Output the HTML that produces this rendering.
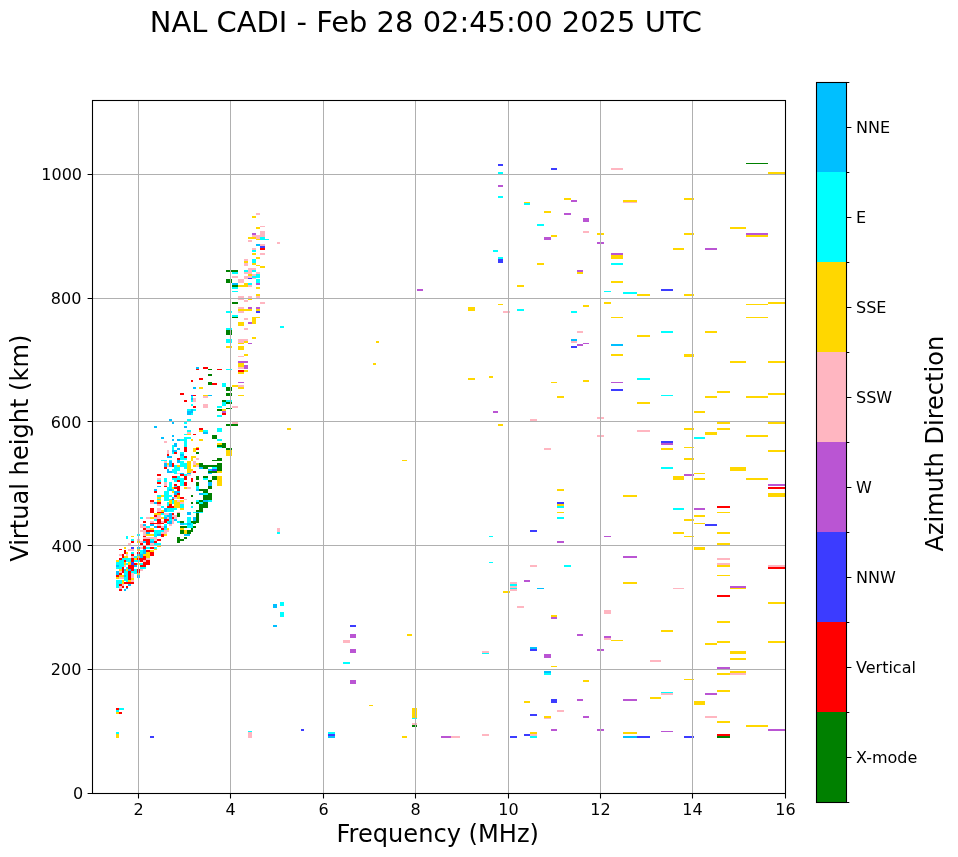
<!DOCTYPE html>
<html><head><meta charset="utf-8"><title>NAL CADI ionogram</title>
<style>html,body{margin:0;padding:0;background:#fff;width:958px;height:857px;overflow:hidden}svg{display:block;will-change:transform}</style>
</head><body>
<svg width="958" height="857" viewBox="0 0 958 857"><rect width="958" height="857" fill="#fff"/><rect x="746" y="163" width="22" height="1" fill="#008000"/><rect x="768" y="172" width="17" height="2" fill="#ffd700"/><rect x="684" y="198" width="10" height="2" fill="#ffd700"/><rect x="730" y="227" width="16" height="2" fill="#ffd700"/><rect x="684" y="233" width="10" height="2" fill="#ffd700"/><rect x="746" y="233" width="22" height="2" fill="#ba55d3"/><rect x="746" y="235" width="22" height="2" fill="#ffd700"/><rect x="673" y="248" width="11" height="2" fill="#ffd700"/><rect x="705" y="248" width="12" height="2" fill="#ba55d3"/><rect x="661" y="289" width="12" height="2" fill="#3c3cff"/><rect x="684" y="294" width="10" height="2" fill="#ffd700"/><rect x="746" y="304" width="22" height="1" fill="#ffd700"/><rect x="768" y="302" width="17" height="2" fill="#ffd700"/><rect x="746" y="317" width="22" height="1" fill="#ffd700"/><rect x="661" y="331" width="12" height="2" fill="#00ffff"/><rect x="705" y="331" width="12" height="2" fill="#ffd700"/><rect x="684" y="354" width="10" height="3" fill="#ffd700"/><rect x="730" y="361" width="16" height="2" fill="#ffd700"/><rect x="768" y="361" width="17" height="2" fill="#ffd700"/><rect x="717" y="391" width="13" height="2" fill="#ffd700"/><rect x="661" y="395" width="12" height="1" fill="#00ffff"/><rect x="705" y="396" width="12" height="2" fill="#ffd700"/><rect x="746" y="396" width="22" height="2" fill="#ffd700"/><rect x="768" y="393" width="17" height="2" fill="#ffd700"/><rect x="694" y="411" width="11" height="2" fill="#ffd700"/><rect x="717" y="422" width="13" height="2" fill="#ffd700"/><rect x="768" y="422" width="17" height="2" fill="#ffd700"/><rect x="684" y="428" width="10" height="2" fill="#ffd700"/><rect x="717" y="428" width="13" height="2" fill="#ffd700"/><rect x="705" y="432" width="12" height="3" fill="#ffd700"/><rect x="746" y="435" width="22" height="2" fill="#ffd700"/><rect x="694" y="437" width="11" height="2" fill="#00ffff"/><rect x="661" y="441" width="12" height="2" fill="#3c3cff"/><rect x="661" y="443" width="12" height="2" fill="#ba55d3"/><rect x="661" y="448" width="12" height="2" fill="#ffd700"/><rect x="684" y="447" width="10" height="1" fill="#ffd700"/><rect x="768" y="450" width="17" height="2" fill="#ffd700"/><rect x="684" y="458" width="10" height="2" fill="#ffd700"/><rect x="661" y="467" width="12" height="2" fill="#00ffff"/><rect x="730" y="467" width="16" height="4" fill="#ffd700"/><rect x="694" y="473" width="11" height="1" fill="#ffd700"/><rect x="684" y="474" width="10" height="2" fill="#ba55d3"/><rect x="673" y="476" width="11" height="4" fill="#ffd700"/><rect x="694" y="478" width="11" height="2" fill="#ffd700"/><rect x="746" y="478" width="22" height="2" fill="#ffd700"/><rect x="768" y="484" width="17" height="2" fill="#ba55d3"/><rect x="768" y="487" width="17" height="2" fill="#ff0000"/><rect x="768" y="493" width="17" height="4" fill="#ffd700"/><rect x="717" y="506" width="13" height="2" fill="#ff0000"/><rect x="673" y="508" width="11" height="2" fill="#00ffff"/><rect x="694" y="508" width="11" height="2" fill="#ba55d3"/><rect x="717" y="512" width="13" height="1" fill="#ffd700"/><rect x="694" y="515" width="11" height="2" fill="#ffd700"/><rect x="684" y="519" width="10" height="2" fill="#ffd700"/><rect x="694" y="523" width="11" height="1" fill="#ffd700"/><rect x="705" y="524" width="12" height="2" fill="#3c3cff"/><rect x="673" y="532" width="11" height="2" fill="#ffd700"/><rect x="717" y="532" width="13" height="2" fill="#ffd700"/><rect x="684" y="536" width="10" height="1" fill="#ffd700"/><rect x="717" y="543" width="13" height="2" fill="#ffd700"/><rect x="694" y="547" width="11" height="3" fill="#ffd700"/><rect x="717" y="558" width="13" height="2" fill="#ffb6c1"/><rect x="717" y="563" width="13" height="2" fill="#ffb6c1"/><rect x="717" y="565" width="13" height="2" fill="#ffd700"/><rect x="768" y="565" width="17" height="2" fill="#ffb6c1"/><rect x="768" y="567" width="17" height="2" fill="#ff0000"/><rect x="717" y="575" width="13" height="1" fill="#ffd700"/><rect x="730" y="586" width="16" height="2" fill="#ba55d3"/><rect x="730" y="588" width="16" height="1" fill="#ffd700"/><rect x="673" y="588" width="11" height="1" fill="#ffb6c1"/><rect x="717" y="595" width="13" height="2" fill="#ff0000"/><rect x="768" y="602" width="17" height="2" fill="#ffd700"/><rect x="717" y="621" width="13" height="2" fill="#ffd700"/><rect x="661" y="630" width="12" height="2" fill="#ffd700"/><rect x="705" y="643" width="12" height="2" fill="#ffd700"/><rect x="717" y="641" width="13" height="2" fill="#ffd700"/><rect x="768" y="641" width="17" height="2" fill="#ffd700"/><rect x="730" y="651" width="16" height="3" fill="#ffd700"/><rect x="730" y="658" width="16" height="2" fill="#ffd700"/><rect x="717" y="667" width="13" height="2" fill="#ba55d3"/><rect x="730" y="671" width="16" height="2" fill="#ffd700"/><rect x="717" y="673" width="13" height="2" fill="#ffd700"/><rect x="730" y="673" width="16" height="2" fill="#ffb6c1"/><rect x="684" y="679" width="10" height="1" fill="#ffd700"/><rect x="717" y="690" width="13" height="2" fill="#ffd700"/><rect x="661" y="692" width="12" height="1" fill="#00ffff"/><rect x="661" y="693" width="12" height="2" fill="#ffb6c1"/><rect x="705" y="693" width="12" height="2" fill="#ba55d3"/><rect x="694" y="701" width="11" height="4" fill="#ffd700"/><rect x="705" y="716" width="12" height="2" fill="#ffb6c1"/><rect x="717" y="721" width="13" height="2" fill="#ffd700"/><rect x="746" y="725" width="22" height="2" fill="#ffd700"/><rect x="768" y="729" width="17" height="2" fill="#ba55d3"/><rect x="661" y="731" width="12" height="1" fill="#ba55d3"/><rect x="684" y="736" width="10" height="2" fill="#3c3cff"/><rect x="717" y="734" width="13" height="2" fill="#ff0000"/><rect x="717" y="736" width="13" height="2" fill="#008000"/><rect x="551" y="168" width="6" height="2" fill="#3c3cff"/><rect x="611" y="168" width="12" height="2" fill="#ffb6c1"/><rect x="564" y="198" width="7" height="2" fill="#ffd700"/><rect x="571" y="200" width="6" height="2" fill="#ba55d3"/><rect x="524" y="202" width="6" height="1" fill="#ffd700"/><rect x="524" y="203" width="6" height="2" fill="#00ffff"/><rect x="623" y="200" width="14" height="2" fill="#ffd700"/><rect x="623" y="202" width="14" height="1" fill="#ffb6c1"/><rect x="544" y="211" width="7" height="2" fill="#ffd700"/><rect x="564" y="213" width="7" height="2" fill="#ba55d3"/><rect x="583" y="218" width="6" height="4" fill="#ba55d3"/><rect x="537" y="224" width="7" height="2" fill="#00ffff"/><rect x="583" y="231" width="6" height="2" fill="#ffb6c1"/><rect x="597" y="233" width="7" height="2" fill="#ffd700"/><rect x="551" y="235" width="6" height="2" fill="#ffd700"/><rect x="544" y="237" width="7" height="3" fill="#ba55d3"/><rect x="597" y="242" width="7" height="2" fill="#ba55d3"/><rect x="611" y="253" width="12" height="2" fill="#ba55d3"/><rect x="611" y="255" width="12" height="4" fill="#ffd700"/><rect x="611" y="263" width="12" height="2" fill="#00ffff"/><rect x="537" y="263" width="7" height="2" fill="#ffd700"/><rect x="577" y="270" width="6" height="2" fill="#ba55d3"/><rect x="577" y="272" width="6" height="2" fill="#ffd700"/><rect x="611" y="281" width="12" height="2" fill="#ffd700"/><rect x="517" y="285" width="7" height="2" fill="#ffd700"/><rect x="604" y="291" width="7" height="1" fill="#00ffff"/><rect x="623" y="292" width="14" height="2" fill="#00ffff"/><rect x="637" y="294" width="13" height="2" fill="#ffd700"/><rect x="604" y="302" width="7" height="2" fill="#ffd700"/><rect x="583" y="305" width="6" height="2" fill="#ffd700"/><rect x="517" y="309" width="7" height="2" fill="#00ffff"/><rect x="571" y="311" width="6" height="2" fill="#00ffff"/><rect x="611" y="317" width="12" height="1" fill="#ffd700"/><rect x="577" y="331" width="6" height="2" fill="#ffb6c1"/><rect x="637" y="335" width="13" height="2" fill="#ffd700"/><rect x="571" y="339" width="6" height="2" fill="#00bfff"/><rect x="571" y="341" width="6" height="2" fill="#ffb6c1"/><rect x="583" y="343" width="6" height="1" fill="#ba55d3"/><rect x="577" y="344" width="6" height="2" fill="#ba55d3"/><rect x="571" y="346" width="6" height="2" fill="#3c3cff"/><rect x="611" y="344" width="12" height="2" fill="#00bfff"/><rect x="611" y="354" width="12" height="2" fill="#ffd700"/><rect x="637" y="378" width="13" height="2" fill="#00ffff"/><rect x="551" y="382" width="6" height="1" fill="#ffd700"/><rect x="583" y="380" width="6" height="2" fill="#ffd700"/><rect x="611" y="382" width="12" height="1" fill="#ba55d3"/><rect x="611" y="389" width="12" height="2" fill="#3c3cff"/><rect x="557" y="396" width="7" height="2" fill="#ffd700"/><rect x="637" y="402" width="13" height="2" fill="#ffd700"/><rect x="530" y="419" width="7" height="2" fill="#ffb6c1"/><rect x="597" y="417" width="7" height="2" fill="#ffb6c1"/><rect x="637" y="430" width="13" height="2" fill="#ffb6c1"/><rect x="597" y="435" width="7" height="2" fill="#ffb6c1"/><rect x="544" y="448" width="7" height="2" fill="#ffb6c1"/><rect x="557" y="489" width="7" height="2" fill="#ffd700"/><rect x="623" y="495" width="14" height="2" fill="#ffd700"/><rect x="557" y="502" width="7" height="2" fill="#3c3cff"/><rect x="557" y="504" width="7" height="2" fill="#ffd700"/><rect x="557" y="506" width="7" height="2" fill="#00ffff"/><rect x="557" y="512" width="7" height="1" fill="#ffd700"/><rect x="557" y="517" width="7" height="2" fill="#00ffff"/><rect x="530" y="530" width="7" height="2" fill="#3c3cff"/><rect x="604" y="536" width="7" height="1" fill="#ba55d3"/><rect x="557" y="541" width="7" height="2" fill="#ba55d3"/><rect x="623" y="556" width="14" height="2" fill="#ba55d3"/><rect x="530" y="565" width="7" height="2" fill="#ffb6c1"/><rect x="564" y="565" width="7" height="2" fill="#00ffff"/><rect x="524" y="580" width="6" height="2" fill="#ba55d3"/><rect x="537" y="588" width="7" height="1" fill="#00bfff"/><rect x="623" y="582" width="14" height="2" fill="#ffd700"/><rect x="517" y="606" width="7" height="2" fill="#ffb6c1"/><rect x="604" y="610" width="7" height="4" fill="#ffb6c1"/><rect x="551" y="615" width="6" height="2" fill="#ffd700"/><rect x="551" y="617" width="6" height="2" fill="#ba55d3"/><rect x="577" y="634" width="6" height="2" fill="#ba55d3"/><rect x="604" y="636" width="7" height="2" fill="#ba55d3"/><rect x="604" y="638" width="7" height="2" fill="#ffb6c1"/><rect x="611" y="640" width="12" height="1" fill="#ffd700"/><rect x="530" y="647" width="7" height="2" fill="#00bfff"/><rect x="530" y="649" width="7" height="2" fill="#3c3cff"/><rect x="597" y="649" width="7" height="2" fill="#ba55d3"/><rect x="544" y="654" width="7" height="4" fill="#ba55d3"/><rect x="650" y="660" width="11" height="2" fill="#ffb6c1"/><rect x="551" y="666" width="6" height="1" fill="#ffd700"/><rect x="544" y="671" width="7" height="2" fill="#00bfff"/><rect x="544" y="673" width="7" height="2" fill="#00ffff"/><rect x="583" y="680" width="6" height="2" fill="#ffd700"/><rect x="524" y="701" width="6" height="2" fill="#ffd700"/><rect x="551" y="699" width="6" height="4" fill="#3c3cff"/><rect x="577" y="699" width="6" height="2" fill="#ba55d3"/><rect x="623" y="699" width="14" height="2" fill="#ba55d3"/><rect x="650" y="697" width="11" height="2" fill="#ffd700"/><rect x="557" y="710" width="7" height="2" fill="#ffb6c1"/><rect x="530" y="714" width="7" height="2" fill="#3c3cff"/><rect x="544" y="716" width="7" height="2" fill="#ffd700"/><rect x="544" y="718" width="7" height="1" fill="#ffb6c1"/><rect x="583" y="716" width="6" height="2" fill="#ba55d3"/><rect x="551" y="729" width="6" height="2" fill="#ba55d3"/><rect x="597" y="729" width="7" height="2" fill="#ba55d3"/><rect x="530" y="732" width="7" height="2" fill="#ffd700"/><rect x="524" y="734" width="6" height="2" fill="#3c3cff"/><rect x="530" y="734" width="7" height="2" fill="#ffb6c1"/><rect x="530" y="736" width="7" height="2" fill="#00ffff"/><rect x="623" y="732" width="14" height="2" fill="#ffd700"/><rect x="623" y="736" width="14" height="2" fill="#00bfff"/><rect x="637" y="736" width="13" height="2" fill="#3c3cff"/><rect x="498" y="164" width="5" height="2" fill="#3c3cff"/><rect x="498" y="172" width="5" height="2" fill="#00ffff"/><rect x="498" y="185" width="5" height="2" fill="#ba55d3"/><rect x="498" y="196" width="5" height="2" fill="#00ffff"/><rect x="493" y="250" width="5" height="2" fill="#00ffff"/><rect x="498" y="257" width="5" height="2" fill="#00ffff"/><rect x="498" y="259" width="5" height="4" fill="#3c3cff"/><rect x="417" y="289" width="6" height="2" fill="#ba55d3"/><rect x="498" y="304" width="5" height="1" fill="#ffd700"/><rect x="468" y="307" width="7" height="4" fill="#ffd700"/><rect x="503" y="311" width="7" height="2" fill="#ffb6c1"/><rect x="376" y="341" width="3" height="2" fill="#ffd700"/><rect x="373" y="363" width="3" height="2" fill="#ffd700"/><rect x="468" y="378" width="7" height="2" fill="#ffd700"/><rect x="489" y="376" width="4" height="2" fill="#ffd700"/><rect x="493" y="411" width="5" height="2" fill="#ba55d3"/><rect x="498" y="424" width="5" height="2" fill="#ffd700"/><rect x="402" y="460" width="5" height="1" fill="#ffd700"/><rect x="489" y="536" width="4" height="1" fill="#00ffff"/><rect x="489" y="562" width="4" height="1" fill="#00ffff"/><rect x="503" y="591" width="7" height="2" fill="#ffd700"/><rect x="510" y="582" width="7" height="2" fill="#ffb6c1"/><rect x="510" y="584" width="7" height="2" fill="#00ffff"/><rect x="510" y="586" width="7" height="2" fill="#ffb6c1"/><rect x="510" y="588" width="7" height="1" fill="#00ffff"/><rect x="510" y="589" width="7" height="2" fill="#ffb6c1"/><rect x="407" y="634" width="5" height="2" fill="#ffd700"/><rect x="482" y="651" width="7" height="2" fill="#ffb6c1"/><rect x="482" y="653" width="7" height="1" fill="#00ffff"/><rect x="412" y="708" width="5" height="10" fill="#ffd700"/><rect x="412" y="718" width="5" height="1" fill="#00ffff"/><rect x="412" y="723" width="5" height="2" fill="#ffb6c1"/><rect x="412" y="725" width="5" height="2" fill="#008000"/><rect x="402" y="736" width="5" height="2" fill="#ffd700"/><rect x="441" y="736" width="10" height="2" fill="#ba55d3"/><rect x="451" y="736" width="9" height="2" fill="#ffb6c1"/><rect x="482" y="734" width="7" height="2" fill="#ffb6c1"/><rect x="510" y="736" width="7" height="2" fill="#3c3cff"/><rect x="256" y="213" width="4" height="2" fill="#ffb6c1"/><rect x="252" y="216" width="4" height="2" fill="#ffd700"/><rect x="260" y="226" width="5" height="1" fill="#ffb6c1"/><rect x="256" y="227" width="4" height="2" fill="#ffd700"/><rect x="260" y="231" width="5" height="6" fill="#ffb6c1"/><rect x="252" y="233" width="4" height="2" fill="#ba55d3"/><rect x="252" y="235" width="4" height="2" fill="#ffb6c1"/><rect x="256" y="235" width="4" height="4" fill="#ffb6c1"/><rect x="248" y="237" width="8" height="2" fill="#ffd700"/><rect x="256" y="239" width="4" height="1" fill="#ffd700"/><rect x="260" y="237" width="5" height="3" fill="#00ffff"/><rect x="265" y="239" width="4" height="1" fill="#00ffff"/><rect x="248" y="240" width="4" height="2" fill="#ffb6c1"/><rect x="277" y="242" width="3" height="2" fill="#ffb6c1"/><rect x="256" y="244" width="4" height="2" fill="#00bfff"/><rect x="260" y="244" width="5" height="2" fill="#ffb6c1"/><rect x="260" y="246" width="5" height="2" fill="#3c3cff"/><rect x="260" y="248" width="5" height="2" fill="#ff0000"/><rect x="252" y="248" width="4" height="2" fill="#ffb6c1"/><rect x="252" y="250" width="4" height="2" fill="#00ffff"/><rect x="252" y="253" width="4" height="2" fill="#ffd700"/><rect x="260" y="253" width="5" height="2" fill="#ffb6c1"/><rect x="256" y="257" width="4" height="2" fill="#ffd700"/><rect x="244" y="259" width="4" height="2" fill="#ffb6c1"/><rect x="244" y="261" width="4" height="2" fill="#ffd700"/><rect x="244" y="263" width="4" height="3" fill="#ffb6c1"/><rect x="252" y="259" width="4" height="4" fill="#00ffff"/><rect x="252" y="263" width="4" height="2" fill="#ffd700"/><rect x="256" y="265" width="4" height="1" fill="#ffd700"/><rect x="260" y="266" width="5" height="2" fill="#ffd700"/><rect x="248" y="268" width="8" height="2" fill="#ffb6c1"/><rect x="226" y="270" width="12" height="2" fill="#008000"/><rect x="244" y="270" width="4" height="2" fill="#00ffff"/><rect x="248" y="270" width="4" height="4" fill="#ffb6c1"/><rect x="252" y="270" width="4" height="2" fill="#00ffff"/><rect x="232" y="272" width="6" height="2" fill="#00ffff"/><rect x="244" y="272" width="4" height="2" fill="#ffb6c1"/><rect x="256" y="272" width="4" height="2" fill="#ffb6c1"/><rect x="248" y="274" width="4" height="2" fill="#ffd700"/><rect x="252" y="274" width="4" height="2" fill="#ffb6c1"/><rect x="256" y="274" width="4" height="2" fill="#00ffff"/><rect x="232" y="276" width="6" height="2" fill="#ffb6c1"/><rect x="244" y="276" width="4" height="3" fill="#ffb6c1"/><rect x="248" y="276" width="4" height="2" fill="#ffb6c1"/><rect x="252" y="276" width="8" height="2" fill="#00ffff"/><rect x="248" y="278" width="4" height="1" fill="#3c3cff"/><rect x="252" y="278" width="4" height="1" fill="#ffb6c1"/><rect x="226" y="279" width="6" height="4" fill="#008000"/><rect x="238" y="279" width="6" height="4" fill="#ffb6c1"/><rect x="256" y="279" width="4" height="4" fill="#00ffff"/><rect x="232" y="283" width="6" height="2" fill="#00bfff"/><rect x="244" y="283" width="4" height="2" fill="#ffd700"/><rect x="248" y="283" width="4" height="2" fill="#00ffff"/><rect x="256" y="283" width="4" height="2" fill="#ba55d3"/><rect x="232" y="285" width="6" height="2" fill="#008000"/><rect x="238" y="285" width="10" height="2" fill="#ffd700"/><rect x="248" y="285" width="4" height="2" fill="#ffb6c1"/><rect x="232" y="287" width="6" height="2" fill="#00ffff"/><rect x="256" y="287" width="4" height="2" fill="#ffd700"/><rect x="232" y="291" width="6" height="1" fill="#00ffff"/><rect x="256" y="294" width="4" height="2" fill="#ffd700"/><rect x="238" y="296" width="6" height="4" fill="#ffb6c1"/><rect x="248" y="296" width="4" height="2" fill="#ffb6c1"/><rect x="256" y="296" width="4" height="2" fill="#ffb6c1"/><rect x="248" y="298" width="4" height="2" fill="#ffd700"/><rect x="244" y="300" width="4" height="2" fill="#ffb6c1"/><rect x="232" y="302" width="6" height="2" fill="#008000"/><rect x="260" y="302" width="5" height="2" fill="#ffb6c1"/><rect x="238" y="307" width="6" height="2" fill="#ffb6c1"/><rect x="248" y="307" width="4" height="2" fill="#ba55d3"/><rect x="256" y="307" width="4" height="2" fill="#ba55d3"/><rect x="238" y="309" width="14" height="2" fill="#ffd700"/><rect x="256" y="309" width="4" height="2" fill="#ffd700"/><rect x="226" y="311" width="6" height="2" fill="#00ffff"/><rect x="238" y="311" width="6" height="2" fill="#ffb6c1"/><rect x="256" y="311" width="4" height="2" fill="#3c3cff"/><rect x="232" y="315" width="6" height="2" fill="#00ffff"/><rect x="232" y="317" width="6" height="1" fill="#008000"/><rect x="252" y="317" width="4" height="7" fill="#ffd700"/><rect x="256" y="317" width="4" height="1" fill="#ffd700"/><rect x="244" y="318" width="4" height="2" fill="#ffb6c1"/><rect x="238" y="322" width="6" height="4" fill="#ffd700"/><rect x="248" y="322" width="4" height="2" fill="#ba55d3"/><rect x="226" y="328" width="6" height="2" fill="#00ffff"/><rect x="226" y="330" width="6" height="5" fill="#008000"/><rect x="244" y="328" width="4" height="2" fill="#ffb6c1"/><rect x="252" y="337" width="4" height="2" fill="#ffd700"/><rect x="226" y="339" width="6" height="4" fill="#00ffff"/><rect x="238" y="339" width="10" height="2" fill="#ffb6c1"/><rect x="238" y="341" width="6" height="2" fill="#ffb6c1"/><rect x="244" y="341" width="4" height="2" fill="#ffd700"/><rect x="238" y="343" width="6" height="1" fill="#ffd700"/><rect x="248" y="343" width="4" height="1" fill="#ba55d3"/><rect x="226" y="346" width="6" height="2" fill="#ffd700"/><rect x="238" y="346" width="6" height="4" fill="#ffd700"/><rect x="244" y="354" width="4" height="2" fill="#ffd700"/><rect x="238" y="356" width="6" height="1" fill="#ffb6c1"/><rect x="238" y="361" width="10" height="2" fill="#ba55d3"/><rect x="238" y="363" width="6" height="4" fill="#ffd700"/><rect x="244" y="365" width="4" height="4" fill="#ba55d3"/><rect x="238" y="367" width="6" height="2" fill="#ffb6c1"/><rect x="196" y="367" width="3" height="2" fill="#00bfff"/><rect x="196" y="369" width="3" height="1" fill="#ff0000"/><rect x="203" y="367" width="5" height="2" fill="#ff0000"/><rect x="208" y="369" width="4" height="1" fill="#008000"/><rect x="217" y="369" width="5" height="1" fill="#ff0000"/><rect x="226" y="369" width="6" height="1" fill="#00ffff"/><rect x="238" y="370" width="6" height="2" fill="#ff0000"/><rect x="244" y="370" width="4" height="2" fill="#ffd700"/><rect x="238" y="372" width="6" height="2" fill="#ffd700"/><rect x="208" y="374" width="4" height="2" fill="#008000"/><rect x="199" y="378" width="4" height="2" fill="#ff0000"/><rect x="238" y="382" width="6" height="1" fill="#ba55d3"/><rect x="208" y="382" width="4" height="3" fill="#008000"/><rect x="212" y="383" width="5" height="2" fill="#ff0000"/><rect x="222" y="383" width="4" height="4" fill="#00ffff"/><rect x="232" y="385" width="6" height="2" fill="#ffd700"/><rect x="238" y="385" width="6" height="2" fill="#ffb6c1"/><rect x="238" y="387" width="6" height="2" fill="#ffd700"/><rect x="226" y="387" width="6" height="4" fill="#008000"/><rect x="199" y="387" width="4" height="2" fill="#ffd700"/><rect x="191" y="380" width="2" height="2" fill="#ff0000"/><rect x="193" y="387" width="3" height="2" fill="#00bfff"/><rect x="180" y="393" width="4" height="2" fill="#ff0000"/><rect x="191" y="395" width="2" height="1" fill="#3c3cff"/><rect x="193" y="395" width="3" height="1" fill="#ff0000"/><rect x="203" y="395" width="5" height="1" fill="#ffd700"/><rect x="208" y="395" width="4" height="1" fill="#00bfff"/><rect x="191" y="396" width="2" height="6" fill="#00ffff"/><rect x="191" y="398" width="2" height="2" fill="#00bfff"/><rect x="193" y="398" width="3" height="4" fill="#ffb6c1"/><rect x="203" y="396" width="5" height="2" fill="#ffb6c1"/><rect x="184" y="400" width="3" height="2" fill="#ff0000"/><rect x="280" y="326" width="4" height="2" fill="#00ffff"/><rect x="226" y="393" width="6" height="3" fill="#008000"/><rect x="238" y="395" width="6" height="1" fill="#ffd700"/><rect x="222" y="400" width="4" height="2" fill="#008000"/><rect x="226" y="400" width="6" height="2" fill="#00ffff"/><rect x="222" y="402" width="4" height="4" fill="#00ffff"/><rect x="226" y="402" width="6" height="2" fill="#008000"/><rect x="203" y="404" width="5" height="4" fill="#ffb6c1"/><rect x="217" y="406" width="5" height="2" fill="#00ffff"/><rect x="232" y="406" width="6" height="2" fill="#ffb6c1"/><rect x="226" y="408" width="6" height="1" fill="#008000"/><rect x="217" y="409" width="5" height="2" fill="#008000"/><rect x="222" y="409" width="4" height="2" fill="#ffd700"/><rect x="222" y="411" width="4" height="2" fill="#ba55d3"/><rect x="222" y="413" width="4" height="2" fill="#ff0000"/><rect x="217" y="415" width="5" height="2" fill="#00ffff"/><rect x="232" y="422" width="6" height="2" fill="#ffb6c1"/><rect x="226" y="424" width="12" height="2" fill="#008000"/><rect x="217" y="428" width="5" height="4" fill="#00ffff"/><rect x="191" y="404" width="2" height="2" fill="#00ffff"/><rect x="193" y="406" width="3" height="2" fill="#ff0000"/><rect x="187" y="409" width="4" height="2" fill="#00ffff"/><rect x="191" y="409" width="2" height="2" fill="#00bfff"/><rect x="193" y="409" width="3" height="2" fill="#00ffff"/><rect x="187" y="411" width="6" height="2" fill="#00bfff"/><rect x="187" y="413" width="4" height="2" fill="#00bfff"/><rect x="191" y="413" width="2" height="2" fill="#00ffff"/><rect x="169" y="419" width="3" height="2" fill="#00bfff"/><rect x="187" y="419" width="4" height="2" fill="#00ffff"/><rect x="172" y="422" width="2" height="2" fill="#00bfff"/><rect x="184" y="422" width="3" height="2" fill="#00ffff"/><rect x="154" y="426" width="3" height="2" fill="#00bfff"/><rect x="184" y="426" width="3" height="2" fill="#00bfff"/><rect x="199" y="428" width="4" height="2" fill="#ff0000"/><rect x="187" y="430" width="4" height="2" fill="#00ffff"/><rect x="199" y="430" width="4" height="2" fill="#ffd700"/><rect x="203" y="430" width="5" height="2" fill="#00ffff"/><rect x="203" y="432" width="5" height="2" fill="#00bfff"/><rect x="187" y="432" width="4" height="2" fill="#ffb6c1"/><rect x="184" y="434" width="3" height="1" fill="#00ffff"/><rect x="187" y="434" width="4" height="1" fill="#ffd700"/><rect x="193" y="434" width="3" height="1" fill="#ff0000"/><rect x="172" y="435" width="2" height="2" fill="#00bfff"/><rect x="161" y="437" width="3" height="2" fill="#00bfff"/><rect x="184" y="437" width="7" height="2" fill="#00ffff"/><rect x="172" y="439" width="2" height="2" fill="#00bfff"/><rect x="177" y="439" width="3" height="2" fill="#00bfff"/><rect x="180" y="439" width="4" height="2" fill="#00ffff"/><rect x="184" y="439" width="3" height="8" fill="#00ffff"/><rect x="191" y="439" width="2" height="2" fill="#ffd700"/><rect x="199" y="439" width="4" height="2" fill="#ffd700"/><rect x="164" y="441" width="3" height="2" fill="#ffb6c1"/><rect x="174" y="443" width="3" height="4" fill="#00bfff"/><rect x="172" y="445" width="2" height="5" fill="#00ffff"/><rect x="177" y="448" width="3" height="2" fill="#00bfff"/><rect x="184" y="447" width="3" height="5" fill="#ff0000"/><rect x="193" y="448" width="3" height="4" fill="#ffd700"/><rect x="196" y="447" width="3" height="1" fill="#ffd700"/><rect x="196" y="448" width="3" height="2" fill="#ff0000"/><rect x="212" y="435" width="5" height="4" fill="#008000"/><rect x="217" y="439" width="5" height="2" fill="#00ffff"/><rect x="217" y="443" width="5" height="2" fill="#ffd700"/><rect x="222" y="443" width="4" height="5" fill="#008000"/><rect x="217" y="445" width="5" height="2" fill="#008000"/><rect x="217" y="447" width="5" height="1" fill="#00ffff"/><rect x="226" y="448" width="6" height="2" fill="#008000"/><rect x="226" y="450" width="6" height="6" fill="#ffd700"/><rect x="196" y="452" width="3" height="2" fill="#008000"/><rect x="196" y="458" width="3" height="2" fill="#ffb6c1"/><rect x="217" y="458" width="5" height="2" fill="#008000"/><rect x="212" y="460" width="10" height="1" fill="#008000"/><rect x="196" y="463" width="3" height="2" fill="#ffd700"/><rect x="196" y="465" width="3" height="2" fill="#ffb6c1"/><rect x="199" y="463" width="4" height="4" fill="#008000"/><rect x="203" y="465" width="14" height="2" fill="#008000"/><rect x="217" y="463" width="5" height="8" fill="#008000"/><rect x="199" y="467" width="4" height="2" fill="#00bfff"/><rect x="203" y="467" width="5" height="2" fill="#008000"/><rect x="212" y="467" width="5" height="2" fill="#00ffff"/><rect x="208" y="469" width="4" height="2" fill="#00bfff"/><rect x="212" y="469" width="5" height="2" fill="#3c3cff"/><rect x="208" y="471" width="9" height="2" fill="#008000"/><rect x="217" y="471" width="5" height="2" fill="#ffd700"/><rect x="208" y="473" width="4" height="1" fill="#00bfff"/><rect x="193" y="471" width="3" height="2" fill="#ff0000"/><rect x="196" y="476" width="3" height="4" fill="#008000"/><rect x="203" y="476" width="5" height="2" fill="#008000"/><rect x="203" y="478" width="5" height="2" fill="#00ffff"/><rect x="212" y="476" width="5" height="4" fill="#008000"/><rect x="217" y="476" width="5" height="10" fill="#ffd700"/><rect x="167" y="450" width="2" height="4" fill="#ffb6c1"/><rect x="172" y="450" width="5" height="2" fill="#00bfff"/><rect x="172" y="452" width="2" height="2" fill="#00ffff"/><rect x="174" y="452" width="3" height="2" fill="#ff0000"/><rect x="180" y="452" width="4" height="2" fill="#00ffff"/><rect x="167" y="454" width="2" height="2" fill="#ff0000"/><rect x="180" y="454" width="4" height="2" fill="#00bfff"/><rect x="167" y="456" width="5" height="2" fill="#00bfff"/><rect x="180" y="456" width="4" height="2" fill="#00ffff"/><rect x="184" y="456" width="3" height="2" fill="#ff0000"/><rect x="191" y="456" width="5" height="2" fill="#ffd700"/><rect x="177" y="458" width="3" height="2" fill="#ff0000"/><rect x="180" y="458" width="7" height="2" fill="#00ffff"/><rect x="191" y="458" width="2" height="3" fill="#ffd700"/><rect x="161" y="460" width="6" height="1" fill="#00ffff"/><rect x="169" y="460" width="3" height="1" fill="#00ffff"/><rect x="177" y="460" width="3" height="3" fill="#00bfff"/><rect x="180" y="461" width="4" height="6" fill="#00ffff"/><rect x="187" y="461" width="4" height="12" fill="#ffd700"/><rect x="193" y="461" width="3" height="4" fill="#ffb6c1"/><rect x="164" y="461" width="3" height="2" fill="#ffb6c1"/><rect x="169" y="461" width="3" height="6" fill="#00bfff"/><rect x="164" y="463" width="3" height="4" fill="#00bfff"/><rect x="167" y="463" width="2" height="2" fill="#ffd700"/><rect x="172" y="463" width="2" height="4" fill="#ff0000"/><rect x="177" y="465" width="3" height="2" fill="#ffd700"/><rect x="184" y="463" width="3" height="6" fill="#00ffff"/><rect x="167" y="465" width="2" height="2" fill="#ffb6c1"/><rect x="174" y="465" width="3" height="4" fill="#00ffff"/><rect x="193" y="465" width="3" height="2" fill="#ffd700"/><rect x="164" y="467" width="3" height="2" fill="#ff0000"/><rect x="177" y="467" width="3" height="4" fill="#00ffff"/><rect x="167" y="469" width="2" height="4" fill="#00bfff"/><rect x="169" y="471" width="3" height="2" fill="#00bfff"/><rect x="172" y="469" width="5" height="4" fill="#00ffff"/><rect x="191" y="469" width="2" height="2" fill="#ffd700"/><rect x="191" y="471" width="2" height="2" fill="#ffb6c1"/><rect x="174" y="473" width="3" height="1" fill="#00ffff"/><rect x="177" y="473" width="3" height="1" fill="#ffb6c1"/><rect x="180" y="473" width="4" height="1" fill="#00bfff"/><rect x="187" y="473" width="4" height="1" fill="#00bfff"/><rect x="157" y="474" width="4" height="2" fill="#ff0000"/><rect x="180" y="474" width="4" height="2" fill="#ff0000"/><rect x="184" y="474" width="3" height="2" fill="#00ffff"/><rect x="187" y="474" width="4" height="2" fill="#ffb6c1"/><rect x="172" y="476" width="5" height="2" fill="#ff0000"/><rect x="177" y="476" width="3" height="2" fill="#00ffff"/><rect x="184" y="476" width="3" height="4" fill="#ff0000"/><rect x="191" y="478" width="2" height="4" fill="#ff0000"/><rect x="157" y="478" width="4" height="2" fill="#ffb6c1"/><rect x="164" y="478" width="3" height="4" fill="#00ffff"/><rect x="172" y="478" width="12" height="2" fill="#00ffff"/><rect x="157" y="480" width="4" height="2" fill="#00ffff"/><rect x="174" y="480" width="3" height="2" fill="#00ffff"/><rect x="177" y="480" width="3" height="2" fill="#ff0000"/><rect x="180" y="480" width="4" height="6" fill="#00ffff"/><rect x="157" y="482" width="4" height="2" fill="#ff0000"/><rect x="164" y="482" width="3" height="4" fill="#ffb6c1"/><rect x="169" y="482" width="3" height="7" fill="#00ffff"/><rect x="184" y="482" width="3" height="4" fill="#ff0000"/><rect x="196" y="482" width="3" height="4" fill="#008000"/><rect x="174" y="484" width="3" height="2" fill="#ff0000"/><rect x="157" y="486" width="4" height="1" fill="#00bfff"/><rect x="164" y="486" width="3" height="1" fill="#ff0000"/><rect x="174" y="486" width="3" height="1" fill="#00ffff"/><rect x="177" y="486" width="3" height="5" fill="#ff0000"/><rect x="167" y="487" width="2" height="8" fill="#00ffff"/><rect x="172" y="487" width="2" height="2" fill="#ffd700"/><rect x="174" y="487" width="3" height="2" fill="#ff0000"/><rect x="184" y="487" width="3" height="2" fill="#ffd700"/><rect x="187" y="487" width="4" height="2" fill="#ffb6c1"/><rect x="196" y="486" width="3" height="3" fill="#00ffff"/><rect x="154" y="489" width="3" height="2" fill="#00bfff"/><rect x="169" y="489" width="3" height="2" fill="#00bfff"/><rect x="172" y="489" width="2" height="2" fill="#00ffff"/><rect x="196" y="489" width="3" height="2" fill="#00bfff"/><rect x="199" y="489" width="9" height="2" fill="#008000"/><rect x="154" y="491" width="3" height="2" fill="#ff0000"/><rect x="164" y="491" width="3" height="4" fill="#00ffff"/><rect x="172" y="491" width="2" height="2" fill="#ffd700"/><rect x="174" y="491" width="3" height="4" fill="#00bfff"/><rect x="177" y="491" width="3" height="2" fill="#00bfff"/><rect x="203" y="491" width="5" height="2" fill="#008000"/><rect x="167" y="493" width="2" height="2" fill="#ffd700"/><rect x="177" y="493" width="3" height="2" fill="#ff0000"/><rect x="199" y="493" width="4" height="2" fill="#00bfff"/><rect x="203" y="493" width="5" height="2" fill="#00ffff"/><rect x="208" y="480" width="4" height="2" fill="#008000"/><rect x="208" y="482" width="4" height="4" fill="#00bfff"/><rect x="208" y="486" width="4" height="3" fill="#008000"/><rect x="208" y="493" width="4" height="7" fill="#008000"/><rect x="191" y="495" width="2" height="2" fill="#008000"/><rect x="203" y="495" width="5" height="5" fill="#008000"/><rect x="180" y="497" width="4" height="2" fill="#ff0000"/><rect x="184" y="499" width="3" height="1" fill="#ffb6c1"/><rect x="180" y="500" width="4" height="2" fill="#ffd700"/><rect x="196" y="500" width="3" height="2" fill="#00ffff"/><rect x="199" y="500" width="4" height="2" fill="#008000"/><rect x="203" y="500" width="5" height="2" fill="#00bfff"/><rect x="208" y="500" width="4" height="2" fill="#00ffff"/><rect x="180" y="502" width="4" height="2" fill="#ffb6c1"/><rect x="191" y="502" width="2" height="2" fill="#008000"/><rect x="196" y="502" width="3" height="2" fill="#008000"/><rect x="199" y="502" width="4" height="2" fill="#00ffff"/><rect x="203" y="502" width="5" height="6" fill="#008000"/><rect x="180" y="504" width="4" height="4" fill="#00ffff"/><rect x="199" y="504" width="4" height="8" fill="#008000"/><rect x="191" y="506" width="2" height="2" fill="#00ffff"/><rect x="180" y="508" width="4" height="2" fill="#ffd700"/><rect x="196" y="510" width="3" height="2" fill="#008000"/><rect x="193" y="512" width="3" height="1" fill="#00ffff"/><rect x="196" y="512" width="3" height="1" fill="#00bfff"/><rect x="199" y="512" width="4" height="1" fill="#00ffff"/><rect x="187" y="512" width="4" height="3" fill="#00bfff"/><rect x="196" y="513" width="3" height="10" fill="#008000"/><rect x="187" y="517" width="4" height="11" fill="#00ffff"/><rect x="193" y="517" width="3" height="4" fill="#00bfff"/><rect x="180" y="521" width="4" height="2" fill="#008000"/><rect x="191" y="521" width="2" height="2" fill="#008000"/><rect x="193" y="521" width="3" height="3" fill="#008000"/><rect x="180" y="523" width="4" height="2" fill="#00bfff"/><rect x="184" y="523" width="3" height="2" fill="#00ffff"/><rect x="187" y="523" width="4" height="2" fill="#00bfff"/><rect x="191" y="523" width="2" height="5" fill="#00ffff"/><rect x="180" y="526" width="7" height="2" fill="#008000"/><rect x="193" y="526" width="3" height="2" fill="#008000"/><rect x="157" y="495" width="4" height="2" fill="#00ffff"/><rect x="161" y="495" width="3" height="2" fill="#ffd700"/><rect x="164" y="491" width="5" height="10" fill="#00ffff"/><rect x="169" y="495" width="3" height="2" fill="#00ffff"/><rect x="174" y="495" width="3" height="2" fill="#ff0000"/><rect x="177" y="495" width="3" height="4" fill="#ffd700"/><rect x="157" y="497" width="4" height="2" fill="#ffd700"/><rect x="172" y="497" width="2" height="2" fill="#00bfff"/><rect x="174" y="497" width="3" height="2" fill="#ffb6c1"/><rect x="157" y="499" width="4" height="1" fill="#00ffff"/><rect x="169" y="499" width="3" height="1" fill="#00ffff"/><rect x="172" y="499" width="2" height="1" fill="#ff0000"/><rect x="150" y="500" width="4" height="2" fill="#ff0000"/><rect x="157" y="500" width="4" height="2" fill="#ffd700"/><rect x="169" y="500" width="3" height="4" fill="#ffd700"/><rect x="172" y="500" width="2" height="4" fill="#00ffff"/><rect x="174" y="500" width="3" height="8" fill="#ffd700"/><rect x="177" y="500" width="3" height="2" fill="#ffb6c1"/><rect x="177" y="502" width="3" height="6" fill="#ffd700"/><rect x="150" y="502" width="4" height="2" fill="#ffb6c1"/><rect x="154" y="502" width="3" height="2" fill="#00bfff"/><rect x="157" y="502" width="4" height="2" fill="#ff0000"/><rect x="167" y="502" width="2" height="4" fill="#00ffff"/><rect x="157" y="504" width="4" height="2" fill="#ffb6c1"/><rect x="169" y="504" width="3" height="2" fill="#ff0000"/><rect x="161" y="506" width="3" height="2" fill="#00ffff"/><rect x="167" y="506" width="7" height="2" fill="#ff0000"/><rect x="150" y="508" width="4" height="5" fill="#ff0000"/><rect x="157" y="508" width="4" height="4" fill="#ffb6c1"/><rect x="164" y="508" width="3" height="4" fill="#00bfff"/><rect x="167" y="508" width="10" height="2" fill="#00ffff"/><rect x="161" y="510" width="3" height="2" fill="#ffd700"/><rect x="167" y="510" width="7" height="2" fill="#00ffff"/><rect x="157" y="512" width="7" height="1" fill="#ff0000"/><rect x="177" y="512" width="3" height="1" fill="#ffb6c1"/><rect x="154" y="513" width="7" height="2" fill="#ffd700"/><rect x="161" y="513" width="3" height="2" fill="#00ffff"/><rect x="164" y="513" width="5" height="2" fill="#ffb6c1"/><rect x="169" y="513" width="3" height="6" fill="#00bfff"/><rect x="172" y="513" width="2" height="2" fill="#ff0000"/><rect x="177" y="513" width="3" height="4" fill="#008000"/><rect x="154" y="515" width="3" height="2" fill="#ff0000"/><rect x="157" y="515" width="4" height="4" fill="#ffb6c1"/><rect x="164" y="515" width="3" height="2" fill="#00ffff"/><rect x="167" y="515" width="2" height="2" fill="#00bfff"/><rect x="172" y="515" width="5" height="4" fill="#ffb6c1"/><rect x="140" y="517" width="3" height="2" fill="#00ffff"/><rect x="146" y="517" width="4" height="2" fill="#ffb6c1"/><rect x="150" y="517" width="4" height="2" fill="#ffd700"/><rect x="154" y="517" width="3" height="2" fill="#ffb6c1"/><rect x="161" y="517" width="3" height="2" fill="#ffd700"/><rect x="164" y="517" width="3" height="2" fill="#00bfff"/><rect x="167" y="517" width="2" height="2" fill="#ffb6c1"/><rect x="172" y="517" width="2" height="2" fill="#ff0000"/><rect x="154" y="519" width="3" height="2" fill="#00ffff"/><rect x="157" y="519" width="4" height="5" fill="#ff0000"/><rect x="164" y="519" width="5" height="2" fill="#ff0000"/><rect x="169" y="519" width="3" height="2" fill="#00ffff"/><rect x="172" y="519" width="2" height="5" fill="#ffb6c1"/><rect x="174" y="519" width="3" height="2" fill="#00bfff"/><rect x="143" y="521" width="3" height="2" fill="#ff0000"/><rect x="150" y="521" width="4" height="2" fill="#ffb6c1"/><rect x="161" y="521" width="3" height="2" fill="#ffb6c1"/><rect x="164" y="521" width="3" height="2" fill="#ff0000"/><rect x="167" y="521" width="2" height="2" fill="#00ffff"/><rect x="169" y="521" width="3" height="2" fill="#00bfff"/><rect x="177" y="521" width="3" height="2" fill="#00ffff"/><rect x="150" y="523" width="14" height="1" fill="#ff0000"/><rect x="167" y="523" width="5" height="1" fill="#00bfff"/><rect x="140" y="524" width="3" height="4" fill="#ffb6c1"/><rect x="143" y="524" width="3" height="2" fill="#00bfff"/><rect x="150" y="524" width="4" height="2" fill="#00bfff"/><rect x="157" y="524" width="4" height="2" fill="#ffb6c1"/><rect x="164" y="524" width="3" height="2" fill="#00ffff"/><rect x="169" y="524" width="3" height="2" fill="#ffb6c1"/><rect x="143" y="526" width="3" height="2" fill="#ffb6c1"/><rect x="146" y="526" width="4" height="2" fill="#00ffff"/><rect x="154" y="526" width="3" height="2" fill="#00bfff"/><rect x="157" y="526" width="4" height="2" fill="#ff0000"/><rect x="161" y="526" width="3" height="2" fill="#ffb6c1"/><rect x="164" y="526" width="3" height="2" fill="#00bfff"/><rect x="143" y="528" width="3" height="2" fill="#ff0000"/><rect x="146" y="528" width="4" height="2" fill="#ffb6c1"/><rect x="150" y="528" width="4" height="2" fill="#ffd700"/><rect x="161" y="528" width="3" height="2" fill="#ff0000"/><rect x="164" y="528" width="3" height="2" fill="#00ffff"/><rect x="167" y="528" width="2" height="2" fill="#ffd700"/><rect x="180" y="528" width="4" height="2" fill="#ffd700"/><rect x="140" y="530" width="6" height="2" fill="#ffb6c1"/><rect x="146" y="530" width="8" height="2" fill="#ff0000"/><rect x="154" y="530" width="10" height="4" fill="#00ffff"/><rect x="164" y="530" width="5" height="2" fill="#ffb6c1"/><rect x="180" y="530" width="4" height="4" fill="#008000"/><rect x="184" y="530" width="3" height="4" fill="#ffd700"/><rect x="187" y="530" width="4" height="4" fill="#008000"/><rect x="143" y="532" width="3" height="5" fill="#ffb6c1"/><rect x="146" y="532" width="4" height="2" fill="#00bfff"/><rect x="161" y="532" width="6" height="2" fill="#ffb6c1"/><rect x="137" y="534" width="3" height="2" fill="#00ffff"/><rect x="146" y="534" width="8" height="2" fill="#ffd700"/><rect x="154" y="534" width="3" height="3" fill="#00ffff"/><rect x="157" y="534" width="4" height="2" fill="#00bfff"/><rect x="161" y="534" width="3" height="3" fill="#ff0000"/><rect x="164" y="534" width="3" height="2" fill="#ffd700"/><rect x="184" y="534" width="6" height="2" fill="#00bfff"/><rect x="131" y="536" width="3" height="1" fill="#ffd700"/><rect x="143" y="536" width="3" height="1" fill="#ff0000"/><rect x="143" y="537" width="14" height="2" fill="#ffb6c1"/><rect x="131" y="539" width="3" height="2" fill="#00ffff"/><rect x="143" y="539" width="7" height="2" fill="#ff0000"/><rect x="157" y="539" width="4" height="2" fill="#ff0000"/><rect x="177" y="537" width="3" height="6" fill="#008000"/><rect x="184" y="537" width="3" height="2" fill="#008000"/><rect x="126" y="536" width="2" height="3" fill="#00ffff"/><rect x="137" y="539" width="3" height="2" fill="#ffb6c1"/><rect x="150" y="539" width="4" height="2" fill="#00ffff"/><rect x="154" y="539" width="3" height="2" fill="#ffb6c1"/><rect x="131" y="541" width="3" height="2" fill="#ff0000"/><rect x="137" y="541" width="3" height="2" fill="#ffd700"/><rect x="140" y="541" width="3" height="2" fill="#ffb6c1"/><rect x="143" y="541" width="3" height="2" fill="#00bfff"/><rect x="146" y="539" width="4" height="6" fill="#ff0000"/><rect x="150" y="541" width="4" height="2" fill="#00bfff"/><rect x="154" y="541" width="3" height="2" fill="#ff0000"/><rect x="128" y="543" width="3" height="2" fill="#ffb6c1"/><rect x="140" y="543" width="3" height="2" fill="#ff0000"/><rect x="150" y="543" width="4" height="2" fill="#ffb6c1"/><rect x="154" y="543" width="7" height="2" fill="#00ffff"/><rect x="134" y="545" width="3" height="1" fill="#ffd700"/><rect x="157" y="546" width="4" height="1" fill="#ffd700"/><rect x="124" y="547" width="2" height="2" fill="#ffd700"/><rect x="131" y="547" width="3" height="2" fill="#3c3cff"/><rect x="137" y="547" width="3" height="2" fill="#00bfff"/><rect x="140" y="547" width="3" height="2" fill="#ffb6c1"/><rect x="143" y="546" width="3" height="3" fill="#ff0000"/><rect x="146" y="547" width="4" height="2" fill="#00ffff"/><rect x="150" y="547" width="4" height="2" fill="#ff0000"/><rect x="154" y="547" width="3" height="2" fill="#00ffff"/><rect x="119" y="549" width="3" height="1" fill="#ff0000"/><rect x="128" y="549" width="6" height="2" fill="#ffb6c1"/><rect x="137" y="549" width="3" height="2" fill="#ffd700"/><rect x="140" y="550" width="3" height="4" fill="#00ffff"/><rect x="143" y="549" width="3" height="5" fill="#00bfff"/><rect x="146" y="550" width="4" height="2" fill="#ff0000"/><rect x="150" y="550" width="4" height="2" fill="#ffd700"/><rect x="154" y="549" width="3" height="1" fill="#ffd700"/><rect x="124" y="550" width="2" height="4" fill="#ff0000"/><rect x="126" y="552" width="2" height="2" fill="#ffd700"/><rect x="131" y="552" width="3" height="2" fill="#00ffff"/><rect x="137" y="552" width="3" height="2" fill="#ff0000"/><rect x="146" y="552" width="4" height="6" fill="#ffd700"/><rect x="150" y="552" width="4" height="4" fill="#ff0000"/><rect x="119" y="554" width="3" height="2" fill="#ffb6c1"/><rect x="122" y="554" width="2" height="4" fill="#ff0000"/><rect x="126" y="554" width="2" height="2" fill="#ffb6c1"/><rect x="131" y="554" width="3" height="2" fill="#ff0000"/><rect x="137" y="554" width="3" height="2" fill="#00bfff"/><rect x="140" y="554" width="3" height="4" fill="#00bfff"/><rect x="143" y="554" width="3" height="2" fill="#ffd700"/><rect x="124" y="556" width="4" height="2" fill="#ffd700"/><rect x="131" y="556" width="3" height="2" fill="#ffb6c1"/><rect x="134" y="556" width="3" height="2" fill="#00ffff"/><rect x="137" y="556" width="3" height="2" fill="#ffd700"/><rect x="143" y="556" width="3" height="4" fill="#ff0000"/><rect x="119" y="558" width="3" height="2" fill="#ff0000"/><rect x="122" y="558" width="9" height="4" fill="#00ffff"/><rect x="131" y="558" width="3" height="4" fill="#ff0000"/><rect x="134" y="558" width="3" height="2" fill="#ffd700"/><rect x="137" y="558" width="3" height="2" fill="#ff0000"/><rect x="140" y="558" width="3" height="4" fill="#ff0000"/><rect x="146" y="558" width="4" height="2" fill="#ffb6c1"/><rect x="116" y="560" width="3" height="2" fill="#ffd700"/><rect x="119" y="560" width="3" height="2" fill="#00ffff"/><rect x="124" y="560" width="2" height="2" fill="#ff0000"/><rect x="134" y="560" width="6" height="2" fill="#00ffff"/><rect x="143" y="560" width="3" height="2" fill="#ffb6c1"/><rect x="146" y="560" width="4" height="5" fill="#ff0000"/><rect x="116" y="562" width="3" height="7" fill="#00ffff"/><rect x="119" y="562" width="5" height="7" fill="#00ffff"/><rect x="124" y="562" width="2" height="3" fill="#ffd700"/><rect x="126" y="563" width="2" height="2" fill="#00ffff"/><rect x="128" y="562" width="3" height="3" fill="#ffd700"/><rect x="131" y="562" width="3" height="3" fill="#3c3cff"/><rect x="134" y="563" width="3" height="2" fill="#ff0000"/><rect x="137" y="563" width="3" height="2" fill="#ffd700"/><rect x="140" y="563" width="3" height="2" fill="#00ffff"/><rect x="143" y="562" width="3" height="4" fill="#ff0000"/><rect x="116" y="565" width="3" height="2" fill="#00bfff"/><rect x="124" y="565" width="2" height="2" fill="#ffb6c1"/><rect x="128" y="565" width="6" height="6" fill="#ff0000"/><rect x="134" y="565" width="3" height="2" fill="#00bfff"/><rect x="140" y="565" width="6" height="2" fill="#ff0000"/><rect x="122" y="567" width="2" height="2" fill="#ff0000"/><rect x="126" y="567" width="2" height="2" fill="#00ffff"/><rect x="140" y="567" width="6" height="2" fill="#00ffff"/><rect x="119" y="569" width="3" height="2" fill="#ffd700"/><rect x="122" y="569" width="2" height="4" fill="#ff0000"/><rect x="124" y="569" width="2" height="2" fill="#00bfff"/><rect x="126" y="569" width="2" height="2" fill="#ffd700"/><rect x="128" y="569" width="3" height="2" fill="#00bfff"/><rect x="134" y="569" width="3" height="5" fill="#00ffff"/><rect x="137" y="569" width="3" height="5" fill="#ff0000"/><rect x="140" y="569" width="3" height="2" fill="#ffb6c1"/><rect x="116" y="571" width="3" height="4" fill="#00bfff"/><rect x="119" y="571" width="3" height="2" fill="#ffb6c1"/><rect x="124" y="571" width="4" height="4" fill="#00ffff"/><rect x="128" y="571" width="3" height="2" fill="#ff0000"/><rect x="131" y="571" width="3" height="2" fill="#00ffff"/><rect x="119" y="573" width="3" height="2" fill="#ff0000"/><rect x="128" y="573" width="3" height="2" fill="#ff0000"/><rect x="131" y="573" width="3" height="5" fill="#ffb6c1"/><rect x="137" y="573" width="3" height="2" fill="#ffd700"/><rect x="116" y="575" width="3" height="2" fill="#ff0000"/><rect x="119" y="575" width="5" height="2" fill="#ffd700"/><rect x="124" y="575" width="2" height="2" fill="#00bfff"/><rect x="126" y="575" width="2" height="7" fill="#00ffff"/><rect x="128" y="575" width="3" height="5" fill="#ff0000"/><rect x="137" y="575" width="3" height="3" fill="#00bfff"/><rect x="116" y="577" width="3" height="2" fill="#ffd700"/><rect x="119" y="577" width="5" height="2" fill="#ffb6c1"/><rect x="124" y="577" width="2" height="4" fill="#00ffff"/><rect x="131" y="578" width="3" height="2" fill="#ffd700"/><rect x="116" y="580" width="6" height="8" fill="#00ffff"/><rect x="122" y="580" width="2" height="4" fill="#ffd700"/><rect x="124" y="579" width="4" height="2" fill="#00ffff"/><rect x="128" y="580" width="3" height="2" fill="#ffd700"/><rect x="131" y="580" width="3" height="2" fill="#ffb6c1"/><rect x="124" y="582" width="10" height="2" fill="#ff0000"/><rect x="119" y="584" width="3" height="2" fill="#ff0000"/><rect x="122" y="584" width="2" height="2" fill="#ffb6c1"/><rect x="128" y="584" width="3" height="2" fill="#00bfff"/><rect x="119" y="586" width="3" height="2" fill="#ffb6c1"/><rect x="122" y="586" width="2" height="2" fill="#ff0000"/><rect x="126" y="586" width="2" height="2" fill="#ff0000"/><rect x="119" y="588" width="3" height="1" fill="#ffb6c1"/><rect x="126" y="588" width="2" height="1" fill="#00bfff"/><rect x="119" y="589" width="3" height="2" fill="#ff0000"/><rect x="124" y="589" width="2" height="2" fill="#00bfff"/><rect x="191" y="528" width="2" height="4" fill="#008000"/><rect x="180" y="539" width="4" height="2" fill="#008000"/><rect x="287" y="428" width="4" height="2" fill="#ffd700"/><rect x="277" y="528" width="3" height="4" fill="#ffb6c1"/><rect x="277" y="532" width="3" height="2" fill="#00ffff"/><rect x="273" y="604" width="4" height="4" fill="#00bfff"/><rect x="280" y="602" width="4" height="4" fill="#00ffff"/><rect x="280" y="612" width="4" height="5" fill="#00ffff"/><rect x="273" y="625" width="4" height="2" fill="#00bfff"/><rect x="350" y="625" width="6" height="2" fill="#3c3cff"/><rect x="350" y="634" width="6" height="4" fill="#ba55d3"/><rect x="343" y="640" width="7" height="3" fill="#ffb6c1"/><rect x="350" y="649" width="6" height="4" fill="#ba55d3"/><rect x="343" y="662" width="7" height="2" fill="#00ffff"/><rect x="350" y="680" width="6" height="4" fill="#ba55d3"/><rect x="116" y="708" width="3" height="2" fill="#ff0000"/><rect x="119" y="708" width="5" height="2" fill="#00ffff"/><rect x="116" y="710" width="3" height="2" fill="#00ffff"/><rect x="116" y="712" width="3" height="2" fill="#ffd700"/><rect x="119" y="712" width="3" height="2" fill="#ff0000"/><rect x="116" y="732" width="3" height="2" fill="#00ffff"/><rect x="116" y="734" width="3" height="4" fill="#ffd700"/><rect x="150" y="736" width="4" height="2" fill="#3c3cff"/><rect x="248" y="731" width="4" height="1" fill="#00ffff"/><rect x="248" y="732" width="4" height="6" fill="#ffb6c1"/><rect x="301" y="729" width="3" height="2" fill="#3c3cff"/><rect x="328" y="732" width="7" height="2" fill="#00ffff"/><rect x="328" y="734" width="7" height="2" fill="#3c3cff"/><rect x="328" y="736" width="7" height="2" fill="#00bfff"/><rect x="369" y="705" width="4" height="1" fill="#ffd700"/><path d="M138.5 100.5V793.5M230.5 100.5V793.5M323.5 100.5V793.5M415.5 100.5V793.5M508.5 100.5V793.5M600.5 100.5V793.5M692.5 100.5V793.5M92.5 669.5H785.5M92.5 545.5H785.5M92.5 421.5H785.5M92.5 298.5H785.5M92.5 174.5H785.5" stroke="#b0b0b0" stroke-width="1" fill="none"/><rect x="92.5" y="100.5" width="693" height="693" fill="none" stroke="#000" stroke-width="1.1"/><path d="M138.5 793.5v4.9M230.5 793.5v4.9M323.5 793.5v4.9M415.5 793.5v4.9M508.5 793.5v4.9M600.5 793.5v4.9M692.5 793.5v4.9M785.5 793.5v4.9M92.5 793.5h-4.9M92.5 669.5h-4.9M92.5 545.5h-4.9M92.5 421.5h-4.9M92.5 298.5h-4.9M92.5 174.5h-4.9" stroke="#000" stroke-width="1.1" fill="none"/><text x="138.5" y="814.7" text-anchor="middle" style="font-family:'DejaVu Sans','Liberation Sans',sans-serif;font-size:16px">2</text><text x="230.5" y="814.7" text-anchor="middle" style="font-family:'DejaVu Sans','Liberation Sans',sans-serif;font-size:16px">4</text><text x="323.5" y="814.7" text-anchor="middle" style="font-family:'DejaVu Sans','Liberation Sans',sans-serif;font-size:16px">6</text><text x="415.5" y="814.7" text-anchor="middle" style="font-family:'DejaVu Sans','Liberation Sans',sans-serif;font-size:16px">8</text><text x="508.5" y="814.7" text-anchor="middle" style="font-family:'DejaVu Sans','Liberation Sans',sans-serif;font-size:16px">10</text><text x="600.5" y="814.7" text-anchor="middle" style="font-family:'DejaVu Sans','Liberation Sans',sans-serif;font-size:16px">12</text><text x="692.5" y="814.7" text-anchor="middle" style="font-family:'DejaVu Sans','Liberation Sans',sans-serif;font-size:16px">14</text><text x="785.5" y="814.7" text-anchor="middle" style="font-family:'DejaVu Sans','Liberation Sans',sans-serif;font-size:16px">16</text><text x="83.3" y="798.8" text-anchor="end" style="font-family:'DejaVu Sans','Liberation Sans',sans-serif;font-size:16px">0</text><text x="81.4" y="674.8" text-anchor="end" style="font-family:'DejaVu Sans','Liberation Sans',sans-serif;font-size:16px">200</text><text x="82" y="551.8" text-anchor="end" style="font-family:'DejaVu Sans','Liberation Sans',sans-serif;font-size:16px">400</text><text x="81.4" y="427.8" text-anchor="end" style="font-family:'DejaVu Sans','Liberation Sans',sans-serif;font-size:16px">600</text><text x="81.4" y="303.8" text-anchor="end" style="font-family:'DejaVu Sans','Liberation Sans',sans-serif;font-size:16px">800</text><text x="82" y="179.8" text-anchor="end" style="font-family:'DejaVu Sans','Liberation Sans',sans-serif;font-size:16px">1000</text><text x="437.7" y="841.6" text-anchor="middle" style="font-family:'DejaVu Sans','Liberation Sans',sans-serif;font-size:24.1px">Frequency (MHz)</text><text transform="translate(27.9 448.25) rotate(-90)" x="0" y="0" text-anchor="middle" style="font-family:'DejaVu Sans','Liberation Sans',sans-serif;font-size:24.1px">Virtual height (km)</text><text x="425.9" y="31.8" text-anchor="middle" style="font-family:'DejaVu Sans','Liberation Sans',sans-serif;font-size:28.95px">NAL CADI - Feb 28 02:45:00 2025 UTC</text><rect x="816.5" y="82" width="30.0" height="90" fill="#00bfff"/><rect x="816.5" y="172" width="30.0" height="90" fill="#00ffff"/><rect x="816.5" y="262" width="30.0" height="90" fill="#ffd700"/><rect x="816.5" y="352" width="30.0" height="90" fill="#ffb6c1"/><rect x="816.5" y="442" width="30.0" height="90" fill="#ba55d3"/><rect x="816.5" y="532" width="30.0" height="90" fill="#3c3cff"/><rect x="816.5" y="622" width="30.0" height="90" fill="#ff0000"/><rect x="816.5" y="712" width="30.0" height="90" fill="#008000"/><rect x="816.5" y="82.5" width="30.0" height="720.0" fill="none" stroke="#000" stroke-width="1.1"/><path d="M846.5 82.5h2.8M846.5 172.5h2.8M846.5 262.5h2.8M846.5 352.5h2.8M846.5 442.5h2.8M846.5 532.5h2.8M846.5 622.5h2.8M846.5 712.5h2.8M846.5 802.5h2.8M846.5 127.5h4.9M846.5 217.5h4.9M846.5 307.5h4.9M846.5 397.5h4.9M846.5 487.5h4.9M846.5 577.5h4.9M846.5 667.5h4.9M846.5 757.5h4.9" stroke="#000" stroke-width="1.1" fill="none"/><text x="856" y="133.0" style="font-family:'DejaVu Sans','Liberation Sans',sans-serif;font-size:16px">NNE</text><text x="856" y="223.0" style="font-family:'DejaVu Sans','Liberation Sans',sans-serif;font-size:16px">E</text><text x="856" y="313.0" style="font-family:'DejaVu Sans','Liberation Sans',sans-serif;font-size:16px">SSE</text><text x="856" y="403.0" style="font-family:'DejaVu Sans','Liberation Sans',sans-serif;font-size:16px">SSW</text><text x="856" y="493.0" style="font-family:'DejaVu Sans','Liberation Sans',sans-serif;font-size:16px">W</text><text x="856" y="583.0" style="font-family:'DejaVu Sans','Liberation Sans',sans-serif;font-size:16px">NNW</text><text x="856" y="673.0" style="font-family:'DejaVu Sans','Liberation Sans',sans-serif;font-size:16px">Vertical</text><text x="856" y="763.0" style="font-family:'DejaVu Sans','Liberation Sans',sans-serif;font-size:16px">X-mode</text><text transform="translate(943 443.65) rotate(-90)" x="0" y="0" text-anchor="middle" style="font-family:'DejaVu Sans','Liberation Sans',sans-serif;font-size:24.1px">Azimuth Direction</text></svg>
</body></html>
